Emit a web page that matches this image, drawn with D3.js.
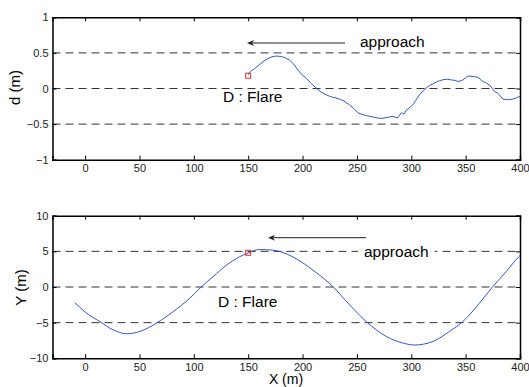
<!DOCTYPE html>
<html><head><meta charset="utf-8">
<script src="https://cdn.jsdelivr.net/npm/d3@7"></script>
<style>body{margin:0;background:#fff}svg{display:block}text{font-family:Arial,"Liberation Sans",sans-serif}</style>
</head><body>
<svg id="c" width="529" height="387"></svg>
<script>
// ---- data ----
const xTicks = [0, 50, 100, 150, 200, 250, 300, 350, 400];
const dTicks = [-1, -0.5, 0, 0.5, 1];
const yTicks = [-10, -5, 0, 5, 10];
const dRefLines = [-0.5, 0, 0.5];
const yRefLines = [-5, 0, 5];
const dX = [149.8,152,156,160,163.6,168,172.8,176,180.5,184,188,192,195.8,199,203.4,208,212.6,217,221.8,226,230,234,238,243.2,247,250.9,254,258.6,263,267.7,271,275,280,283,285.5,287.7,289,290.8,292,293.8,295,296.9,299,301.4,304,307.5,310.5,313.7,316.5,319.8,323,326,330,333.6,336.7,340,342.8,345,347.4,350,352,356,358.5,361.2,363.5,365.8,369,372,374.5,376.5,379,381.1,384.2,387,390.3,393,395.5,398,400];
const dV = [0.19,0.24,0.28,0.33,0.375,0.42,0.45,0.455,0.45,0.43,0.40,0.34,0.26,0.2,0.145,0.07,0.005,-0.05,-0.09,-0.115,-0.13,-0.15,-0.175,-0.23,-0.28,-0.34,-0.36,-0.38,-0.395,-0.41,-0.42,-0.415,-0.40,-0.39,-0.405,-0.41,-0.38,-0.34,-0.355,-0.35,-0.31,-0.29,-0.26,-0.23,-0.17,-0.09,-0.04,0.005,0.04,0.065,0.09,0.11,0.125,0.13,0.12,0.115,0.1,0.105,0.12,0.15,0.175,0.17,0.165,0.158,0.13,0.10,0.075,0.05,0.0,-0.04,-0.06,-0.09,-0.15,-0.155,-0.157,-0.15,-0.14,-0.12,-0.115];
const yX = [-9.5,0,13.5,25.7,38,50.3,65.6,81,96.2,105.4,117.6,130,142,148.9,160.5,172.8,191,209.5,228,243.3,258.6,277,292.3,303,319.9,335,347.4,362.6,374.9,387.2,398.8,400];
const yV = [-2.19,-3.5,-4.85,-6.0,-6.56,-6.24,-5.07,-3.45,-1.58,-0.19,1.44,3.07,4.23,4.7,5.26,5.17,4.23,2.37,0.04,-2.51,-4.85,-6.94,-7.86,-8.14,-7.64,-6.24,-4.85,-2.28,0.04,2.14,4.23,4.4];
const flareX = 150, flareD = 0.18, flareY = 4.8;

const svg = d3.select("#c");
const L = 52.5, R = 520;
const x = d3.scaleLinear().domain([-30, 400]).range([L, R]);

function panel(top, bottom, domain, ticks, refs, xs, vs, curve, ylabel, fx, fv, arrow, appr, flare) {
  const y = d3.scaleLinear().domain(domain).range([bottom, top]);
  const g = svg.append("g");
  g.selectAll(".ref").data(refs).enter().append("line")
    .attr("x1", L).attr("x2", R).attr("y1", d => y(d)).attr("y2", d => y(d))
    .attr("stroke", "#333").attr("stroke-width", 1).attr("stroke-dasharray", "8,5");
  const fmt = d3.format("");
  g.append("g").attr("transform", `translate(0,${bottom})`)
    .call(d3.axisBottom(x).tickValues(xTicks).tickSize(-4).tickPadding(5).tickFormat(fmt));
  g.append("g").attr("transform", `translate(0,${top})`)
    .call(d3.axisTop(x).tickValues(xTicks).tickSize(-4).tickFormat(""));
  g.append("g").attr("transform", `translate(${L},0)`)
    .call(d3.axisLeft(y).tickValues(ticks).tickSize(-4).tickPadding(4).tickFormat(fmt));
  g.append("g").attr("transform", `translate(${R},0)`)
    .call(d3.axisRight(y).tickValues(ticks).tickSize(-4).tickFormat(""));
  g.selectAll(".domain").attr("stroke", "#000").attr("stroke-width", 1.5);
  g.selectAll(".tick line").attr("stroke", "#000");
  g.selectAll(".tick text").attr("font-size", 11).attr("fill", "#222").attr("font-family", "Arial");
  const pts = xs.map((v, i) => [v, vs[i]]).filter(d => d[0] <= 400);
  g.append("path").datum(pts)
    .attr("d", d3.line().x(d => x(d[0])).y(d => y(d[1])).curve(curve))
    .attr("fill", "none").attr("stroke", "#3557c0").attr("stroke-width", 1);
  g.append("rect").attr("x", x(fx) - 2.5).attr("y", y(fv) - 2.5).attr("width", 5).attr("height", 5)
    .attr("fill", "none").attr("stroke", "#e03030").attr("stroke-width", 1);
  g.append("text").attr("transform", `translate(${ylabel.x},${ylabel.y}) rotate(-90)`)
    .attr("text-anchor", "middle").attr("dy", "0.35em").attr("font-size", 15).text(ylabel.t);
  g.append("line").attr("x1", arrow.x1).attr("x2", arrow.x2 + 4).attr("y1", arrow.y).attr("y2", arrow.y)
    .attr("stroke", "#222").attr("stroke-width", 1);
  g.append("path").attr("d", `M${arrow.x2},${arrow.y} l7,-3 l-2,3 l2,3 z`).attr("fill", "#222");
  const bg = g.append("rect").attr("fill", "#fff");
  const at = g.append("text").attr("x", appr.x).attr("y", appr.y).attr("font-size", 15.5).text("approach");
  if (appr.bg) {
    const b = at.node().getBBox();
    bg.attr("x", b.x - 6).attr("y", b.y).attr("width", b.width + 12).attr("height", b.height);
  }
  g.append("text").attr("x", flare.x).attr("y", flare.y).attr("font-size", 15.5).text("D : Flare");
}

panel(17.3, 159.7, [-1, 1], dTicks, dRefLines, dX, dV, d3.curveLinear, {x: 15, y: 87.5, t: "d (m)"}, flareX, flareD,
  {x1: 345, x2: 247, y: 43}, {x: 360, y: 47, bg: false}, {x: 223, y: 102});
panel(215.7, 358.3, [-10, 10], yTicks, yRefLines, yX, yV, d3.curveMonotoneX, {x: 21, y: 287.5, t: "Y (m)"}, flareX, flareY,
  {x1: 366, x2: 268, y: 237.7}, {x: 364, y: 256.5, bg: true}, {x: 218, y: 306.5});

svg.append("text").attr("x", 286).attr("y", 384).attr("text-anchor", "middle").attr("font-size", 14).text("X (m)");
</script>
</body></html>
